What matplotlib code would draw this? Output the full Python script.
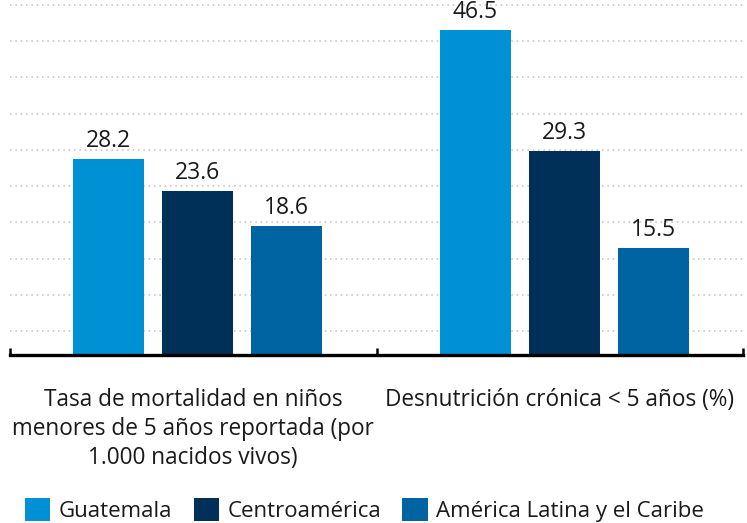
import numpy as np
import matplotlib
matplotlib.use("Agg")
import matplotlib.pyplot as plt
from matplotlib.patches import Patch

# data
categories = ["Tasa de mortalidad en niños\nmenores de 5 años reportada (por\n1.000 nacidos vivos)",
              "Desnutrición crónica < 5 años (%)"]
series = ["Guatemala", "Centroamérica", "América Latina y el Caribe"]
guatemala = [28.2, 46.5]
centroamerica = [23.6, 29.3]
america_latina = [18.6, 15.5]
values = [guatemala, centroamerica, america_latina]
colors = ["#0091D5", "#003057", "#0064A3"]

plt.rcParams["font.family"] = ["Open Sans", "DejaVu Sans"]
text_color = "#1a1a1a"

fig = plt.figure(figsize=(7.47, 5.23), dpi=100)
ax = fig.add_axes([10 / 747, 168 / 523, 733 / 747, 355 / 523])

x = np.arange(len(categories))
offsets = [-0.243, 0.0, 0.243]
bar_w = 0.194
shift = 0.012

for vals, off, col in zip(values, offsets, colors):
    bars = ax.bar(x + off + shift, vals, width=bar_w, color=col, zorder=3)
    for b, v in zip(bars, vals):
        ax.annotate(f"{v:.1f}", (b.get_x() + b.get_width() / 2, v),
                    xytext=(0, 4.5), textcoords="offset points",
                    ha="center", va="bottom", fontsize=16.5, color=text_color,
                    annotation_clip=False)

ax.set_xlim(-0.5, 1.5)
ax.set_ylim(0.3, 50.8)

# dotted horizontal guides
ax.set_yticks(np.linspace(3.7, 50.1, 10))
ax.yaxis.grid(True, linestyle=(0, (1, 2.2)), color="#c8c8c8", linewidth=1.2, zorder=0)
ax.tick_params(axis="y", length=0, labelleft=False)

# category boundaries as inward ticks
ax.set_xticks([-0.5, 0.5, 1.5])
ax.tick_params(axis="x", direction="in", length=5, width=1.8, color="black",
               labelbottom=False)

for s in ["top", "right", "left"]:
    ax.spines[s].set_visible(False)
ax.spines["bottom"].set_linewidth(2.4)
ax.spines["bottom"].set_zorder(4)

for xi, label in zip(x, categories):
    ax.annotate(label, (xi, 0), xycoords=("data", "axes fraction"),
                xytext=(0, -23.5), textcoords="offset points",
                ha="center", va="top", fontsize=16.3, color=text_color,
                linespacing=1.3, annotation_clip=False)

handles = [Patch(facecolor=c, edgecolor="none") for c in colors]
fig.legend(handles, series, ncol=3, loc="lower left",
           bbox_to_anchor=(25 / 747, 1 / 523), frameon=False,
           fontsize=16, handlelength=1.13, handleheight=1.22,
           handletextpad=0.4, columnspacing=0.95, borderpad=0,
           borderaxespad=0, labelcolor=text_color)

fig.savefig("out.png", dpi=100)
